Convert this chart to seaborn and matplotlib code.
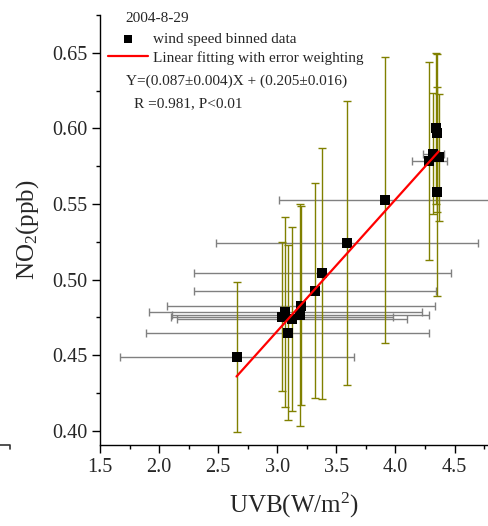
import matplotlib
matplotlib.use("Agg")
import matplotlib.pyplot as plt
import numpy as np
import pandas as pd
import seaborn as sns
from matplotlib.lines import Line2D
from matplotlib.ticker import MultipleLocator

# wind speed binned data, 2004-8-29
uvb = [2.655, 3.037, 3.068, 3.088, 3.124, 3.195, 3.203, 3.319, 3.381,
       3.590, 3.911, 4.286, 4.320, 4.343, 4.350, 4.354, 4.365]
no2 = [0.4487, 0.4756, 0.4785, 0.4650, 0.4741, 0.4767, 0.4829, 0.4928, 0.5043,
       0.5241, 0.5526, 0.5786, 0.5832, 0.6000, 0.5970, 0.5583, 0.5810]
uvb_err = [0.99, 0.94, 1.156, 1.20, 0.976, 1.09, 1.135, 1.02, 1.089,
           1.107, 0.90, 0.15, 0.09, 0.02, 0.02, 0.02, 0.03]
no2_err = [0.0496, 0.049, 0.063, 0.058, 0.061, 0.0735, 0.066, 0.071, 0.083,
           0.094, 0.0945, 0.0654, 0.040, 0.050, 0.052, 0.069, 0.042]

# weighted linear fit reported in the figure
slope, slope_err = 0.087, 0.004
intercept, intercept_err = 0.205, 0.016
r_value = 0.981

df = pd.DataFrame({"uvb": uvb, "no2": no2, "uvb_err": uvb_err, "no2_err": no2_err})
fit = pd.DataFrame({"uvb": [df["uvb"].min(), df["uvb"].max()]})
fit["no2"] = slope * fit["uvb"] + intercept

sns.set_style("ticks")
plt.rcParams["font.family"] = ["Liberation Serif", "DejaVu Serif"]
plt.rcParams["mathtext.fontset"] = "custom"
plt.rcParams["mathtext.rm"] = "Liberation Serif"
plt.rcParams["mathtext.it"] = "Liberation Serif:italic"

fig = plt.figure(figsize=(4.88, 5.26), dpi=100)
ax = fig.add_axes([100 / 488, 81 / 526, 388 / 488, 430 / 526])

ax.errorbar(df["uvb"], df["no2"], xerr=df["uvb_err"], fmt="none",
            ecolor="#808080", elinewidth=1.0, capsize=3, capthick=1.0, zorder=1)
ax.errorbar(df["uvb"], df["no2"], yerr=df["no2_err"], fmt="none",
            ecolor="#808000", elinewidth=1.0, capsize=3, capthick=1.0, zorder=2)
sns.scatterplot(data=df, x="uvb", y="no2", marker="s", s=58, color="black",
                linewidth=0, ax=ax, zorder=3, label="wind speed binned data")
sns.lineplot(data=fit, x="uvb", y="no2", color="red", lw=1.6, ax=ax,
             zorder=4, label="Linear fitting with error weighting")

ax.set_xlim(1.5, 4.783)
ax.set_ylim(0.3907, 0.675)
ax.xaxis.set_major_locator(MultipleLocator(0.5))
ax.xaxis.set_minor_locator(MultipleLocator(0.25))
ax.yaxis.set_major_locator(MultipleLocator(0.05))
ax.yaxis.set_minor_locator(MultipleLocator(0.025))
ax.xaxis.set_major_formatter(matplotlib.ticker.FormatStrFormatter("%.1f"))
ax.yaxis.set_major_formatter(matplotlib.ticker.FormatStrFormatter("%.2f"))
ax.tick_params(which="major", direction="out", length=5.5, width=1,
               labelsize=14.5, color="black")
ax.tick_params(which="minor", direction="out", length=3, width=1, color="black")
sns.despine(ax=ax)
for side in ["left", "bottom"]:
    ax.spines[side].set_color("black")
    ax.spines[side].set_linewidth(1)

ax.set_xlabel(r"UVB(W/m$^2$)", fontsize=18, labelpad=10)
ax.set_ylabel(r"NO$_2$(ppb)", fontsize=18, labelpad=8)

handles, labels = ax.get_legend_handles_labels()
ax.legend(handles, labels, loc="upper left", frameon=False, fontsize=11,
          bbox_to_anchor=(108 / 488, 1 - 32 / 526), bbox_transform=fig.transFigure,
          borderpad=0, borderaxespad=0, handlelength=2.6, handletextpad=0.35,
          labelspacing=0.35, markerscale=0.75)

fig.text(125 / 488, 1 - 18 / 526, "2004-8-29", fontsize=11, va="center")
fig.text(126 / 488, 1 - 81 / 526,
         f"Y=({slope:.3f}\u00b1{slope_err:.3f})X + ({intercept:.3f}\u00b1{intercept_err:.3f})",
         fontsize=11, va="center")
fig.text(134 / 488, 1 - 104 / 526, f"R ={r_value:.3f}, P<0.01", fontsize=11, va="center")

# piece of the neighbouring panel's axis at the left edge
fig.add_artist(Line2D([0, 9.5 / 488, 9.5 / 488], [1 - 444.5 / 526, 1 - 444.5 / 526, 1 - 449 / 526],
                      color="#333333", lw=1.2))

fig.savefig("out.png", dpi=100)
